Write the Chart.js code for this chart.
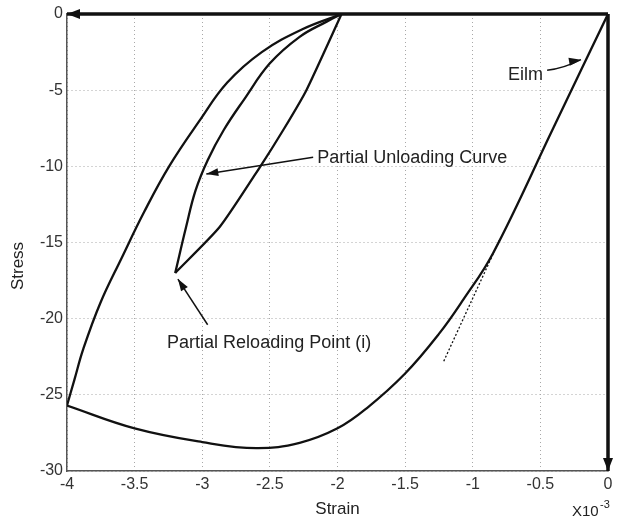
<!DOCTYPE html>
<html>
<head>
<meta charset="utf-8">
<script src="https://cdn.jsdelivr.net/npm/chart.js@4.4.1/dist/chart.umd.min.js"></script>
<style>
  body { margin: 0; background: #fff; }
  #wrap { width: 620px; height: 519px; }
</style>
</head>
<body>
<div id="wrap"><canvas id="chartStress"></canvas></div>
<script>
// strain values are x10^-3
const xTicks = [-4, -3.5, -3, -2.5, -2, -1.5, -1, -0.5, 0];
const yTicks = [0, -5, -10, -15, -20, -25, -30];

// envelope (loading from origin)
const envStrain = [0, -0.4, -0.85, -1.07, -1.25, -1.5, -1.78, -2.0, -2.28, -2.6, -3.0, -3.5, -4.0];
const envStress = [0, -7.4, -15.7, -18.75, -21.0, -23.6, -25.85, -27.2, -28.15, -28.5, -28.1, -27.2, -25.7];

// full unloading curve
const unlStrain = [-4.0, -3.945, -3.88, -3.755, -3.595, -3.43, -3.245, -3.02, -2.815, -2.56, -2.26, -1.97];
const unlStress = [-25.7, -24, -22, -19, -16, -13, -10, -7, -4.5, -2.5, -1, 0];

// partial unloading curve
const pulStrain = [-1.97, -2.08, -2.28, -2.5, -2.69, -2.84, -2.96, -3.05, -3.12, -3.2];
const pulStress = [0, -0.5, -1.5, -3.24, -5.6, -7.6, -9.6, -11.6, -14.0, -17.0];

// partial reloading
const relStrain = [-3.2, -2.87, -2.57, -2.4, -2.23, -1.97];
const relStress = [-17.0, -13.97, -10.0, -7.6, -5.0, 0];

// dotted tangent (extension of Eilm)
const tanStrain = [-0.8, -1.22];
const tanStress = [-14.8, -22.9];

// axis arrows
const topStrain = [0, -4];
const topStress = [0, 0];
const rightStrain = [0, 0];
const rightStress = [0, -30];

// annotations: [label, textX, textY, fromX, fromY, toX, toY]
const notes = [
  ["Eilm", -0.61, -4.0, -0.45, -3.7, -0.2, -3.0],
  ["Partial Unloading Curve", -2.15, -9.45, -2.18, -9.4, -2.97, -10.5],
  ["Partial Reloading Point (i)", -3.26, -21.6, -2.96, -20.4, -3.18, -17.4]
];

function pts(xs, ys) {
  return xs.map((x, i) => ({ x: x, y: ys[i] }));
}

function line(xs, ys, width, extra) {
  return Object.assign({
    data: pts(xs, ys),
    showLine: true,
    borderColor: "#111",
    borderWidth: width,
    pointRadius: 0,
    tension: 0.4,
    fill: false
  }, extra || {});
}

function arrowHead(ctx, x1, y1, x2, y2, len, half) {
  const a = Math.atan2(y2 - y1, x2 - x1);
  ctx.beginPath();
  ctx.moveTo(x2, y2);
  ctx.lineTo(x2 - len * Math.cos(a) + half * Math.sin(a), y2 - len * Math.sin(a) - half * Math.cos(a));
  ctx.lineTo(x2 - len * Math.cos(a) - half * Math.sin(a), y2 - len * Math.sin(a) + half * Math.cos(a));
  ctx.closePath();
  ctx.fill();
}

const extras = {
  id: "extras",
  afterDatasetsDraw(chart) {
    const ctx = chart.ctx;
    const sx = chart.scales.x, sy = chart.scales.y;
    const px = v => sx.getPixelForValue(v);
    const py = v => sy.getPixelForValue(v);
    ctx.save();
    ctx.fillStyle = "#111";
    ctx.strokeStyle = "#111";

    // axis arrowheads
    arrowHead(ctx, px(-3.8), py(0), px(-4), py(0), 13, 5);
    arrowHead(ctx, px(0), py(-28.5), px(0), py(-30), 13, 5);

    // annotations
    ctx.font = "18px 'Liberation Sans', Arial, sans-serif";
    ctx.textBaseline = "middle";
    notes.forEach((n, i) => {
      const tx = px(n[1]), ty = py(n[2]);
      ctx.textAlign = i === 0 ? "center" : "left";
      ctx.fillStyle = "#222";
      ctx.fillText(n[0], tx, ty);
      const x1 = px(n[3]), y1 = py(n[4]), x2 = px(n[5]), y2 = py(n[6]);
      ctx.lineWidth = 1.5;
      ctx.beginPath();
      ctx.moveTo(x1, y1);
      if (i === 0) {
        ctx.quadraticCurveTo((x1 + x2) / 2, y1 - 2, x2, y2);
      } else {
        ctx.lineTo(x2, y2);
      }
      ctx.stroke();
      ctx.fillStyle = "#111";
      arrowHead(ctx, i === 0 ? (x1 + x2) / 2 : x1, i === 0 ? y2 + 3 : y1, x2, y2, 12, 4);
    });

    // axis titles
    ctx.fillStyle = "#222";
    ctx.font = "17px 'Liberation Sans', Arial, sans-serif";
    ctx.textAlign = "center";
    ctx.fillText("Strain", px(-2), 509);
    ctx.save();
    ctx.translate(18, 266);
    ctx.rotate(-Math.PI / 2);
    ctx.fillText("Stress", 0, 0);
    ctx.restore();

    // exponent
    ctx.font = "15px 'Liberation Sans', Arial, sans-serif";
    ctx.textAlign = "left";
    ctx.fillText("X10", 572, 512);
    ctx.font = "11px 'Liberation Sans', Arial, sans-serif";
    ctx.fillText("-3", 600, 505);
    ctx.restore();
  }
};

const fontSpec = { family: "'Liberation Sans', Arial, sans-serif", size: 16 };

new Chart(document.getElementById("chartStress").getContext("2d"), {
  type: "scatter",
  data: {
    datasets: [
      line(envStrain, envStress, 2.3),
      line(unlStrain, unlStress, 2.3),
      line(pulStrain, pulStress, 2.3),
      line(relStrain, relStress, 2.3, { tension: 0.2 }),
      line(tanStrain, tanStress, 1.3, { borderDash: [2, 2], tension: 0 }),
      line(topStrain, topStress, 3.5, { tension: 0, clip: false }),
      line(rightStrain, rightStress, 3.5, { tension: 0, clip: false })
    ]
  },
  options: {
    responsive: true,
    maintainAspectRatio: false,
    animation: false,
    events: [],
    layout: { padding: { top: 14, right: 12, left: 0, bottom: 0 } },
    plugins: {
      legend: { display: false },
      tooltip: { enabled: false }
    },
    scales: {
      x: {
        type: "linear",
        min: -4,
        max: 0,
        afterBuildTicks: s => { s.ticks = xTicks.map(v => ({ value: v })); },
        afterFit: s => { s.height = 48; },
        ticks: { color: "#333", padding: 4, maxRotation: 0, font: fontSpec, callback: v => String(v) },
        grid: { color: "#a8a8a8", lineWidth: 1, drawTicks: false },
        border: { color: "#555", width: 1.5, dash: [1, 3] }
      },
      y: {
        type: "linear",
        min: -30,
        max: 0,
        afterBuildTicks: s => { s.ticks = yTicks.map(v => ({ value: v })); },
        afterFit: s => { s.width = 67; },
        ticks: { color: "#333", padding: 4, font: fontSpec, callback: v => String(v) },
        grid: { color: "#a8a8a8", lineWidth: 1, drawTicks: false },
        border: { color: "#555", width: 1.5, dash: [1, 3] }
      }
    }
  },
  plugins: [extras]
});
</script>
</body>
</html>
